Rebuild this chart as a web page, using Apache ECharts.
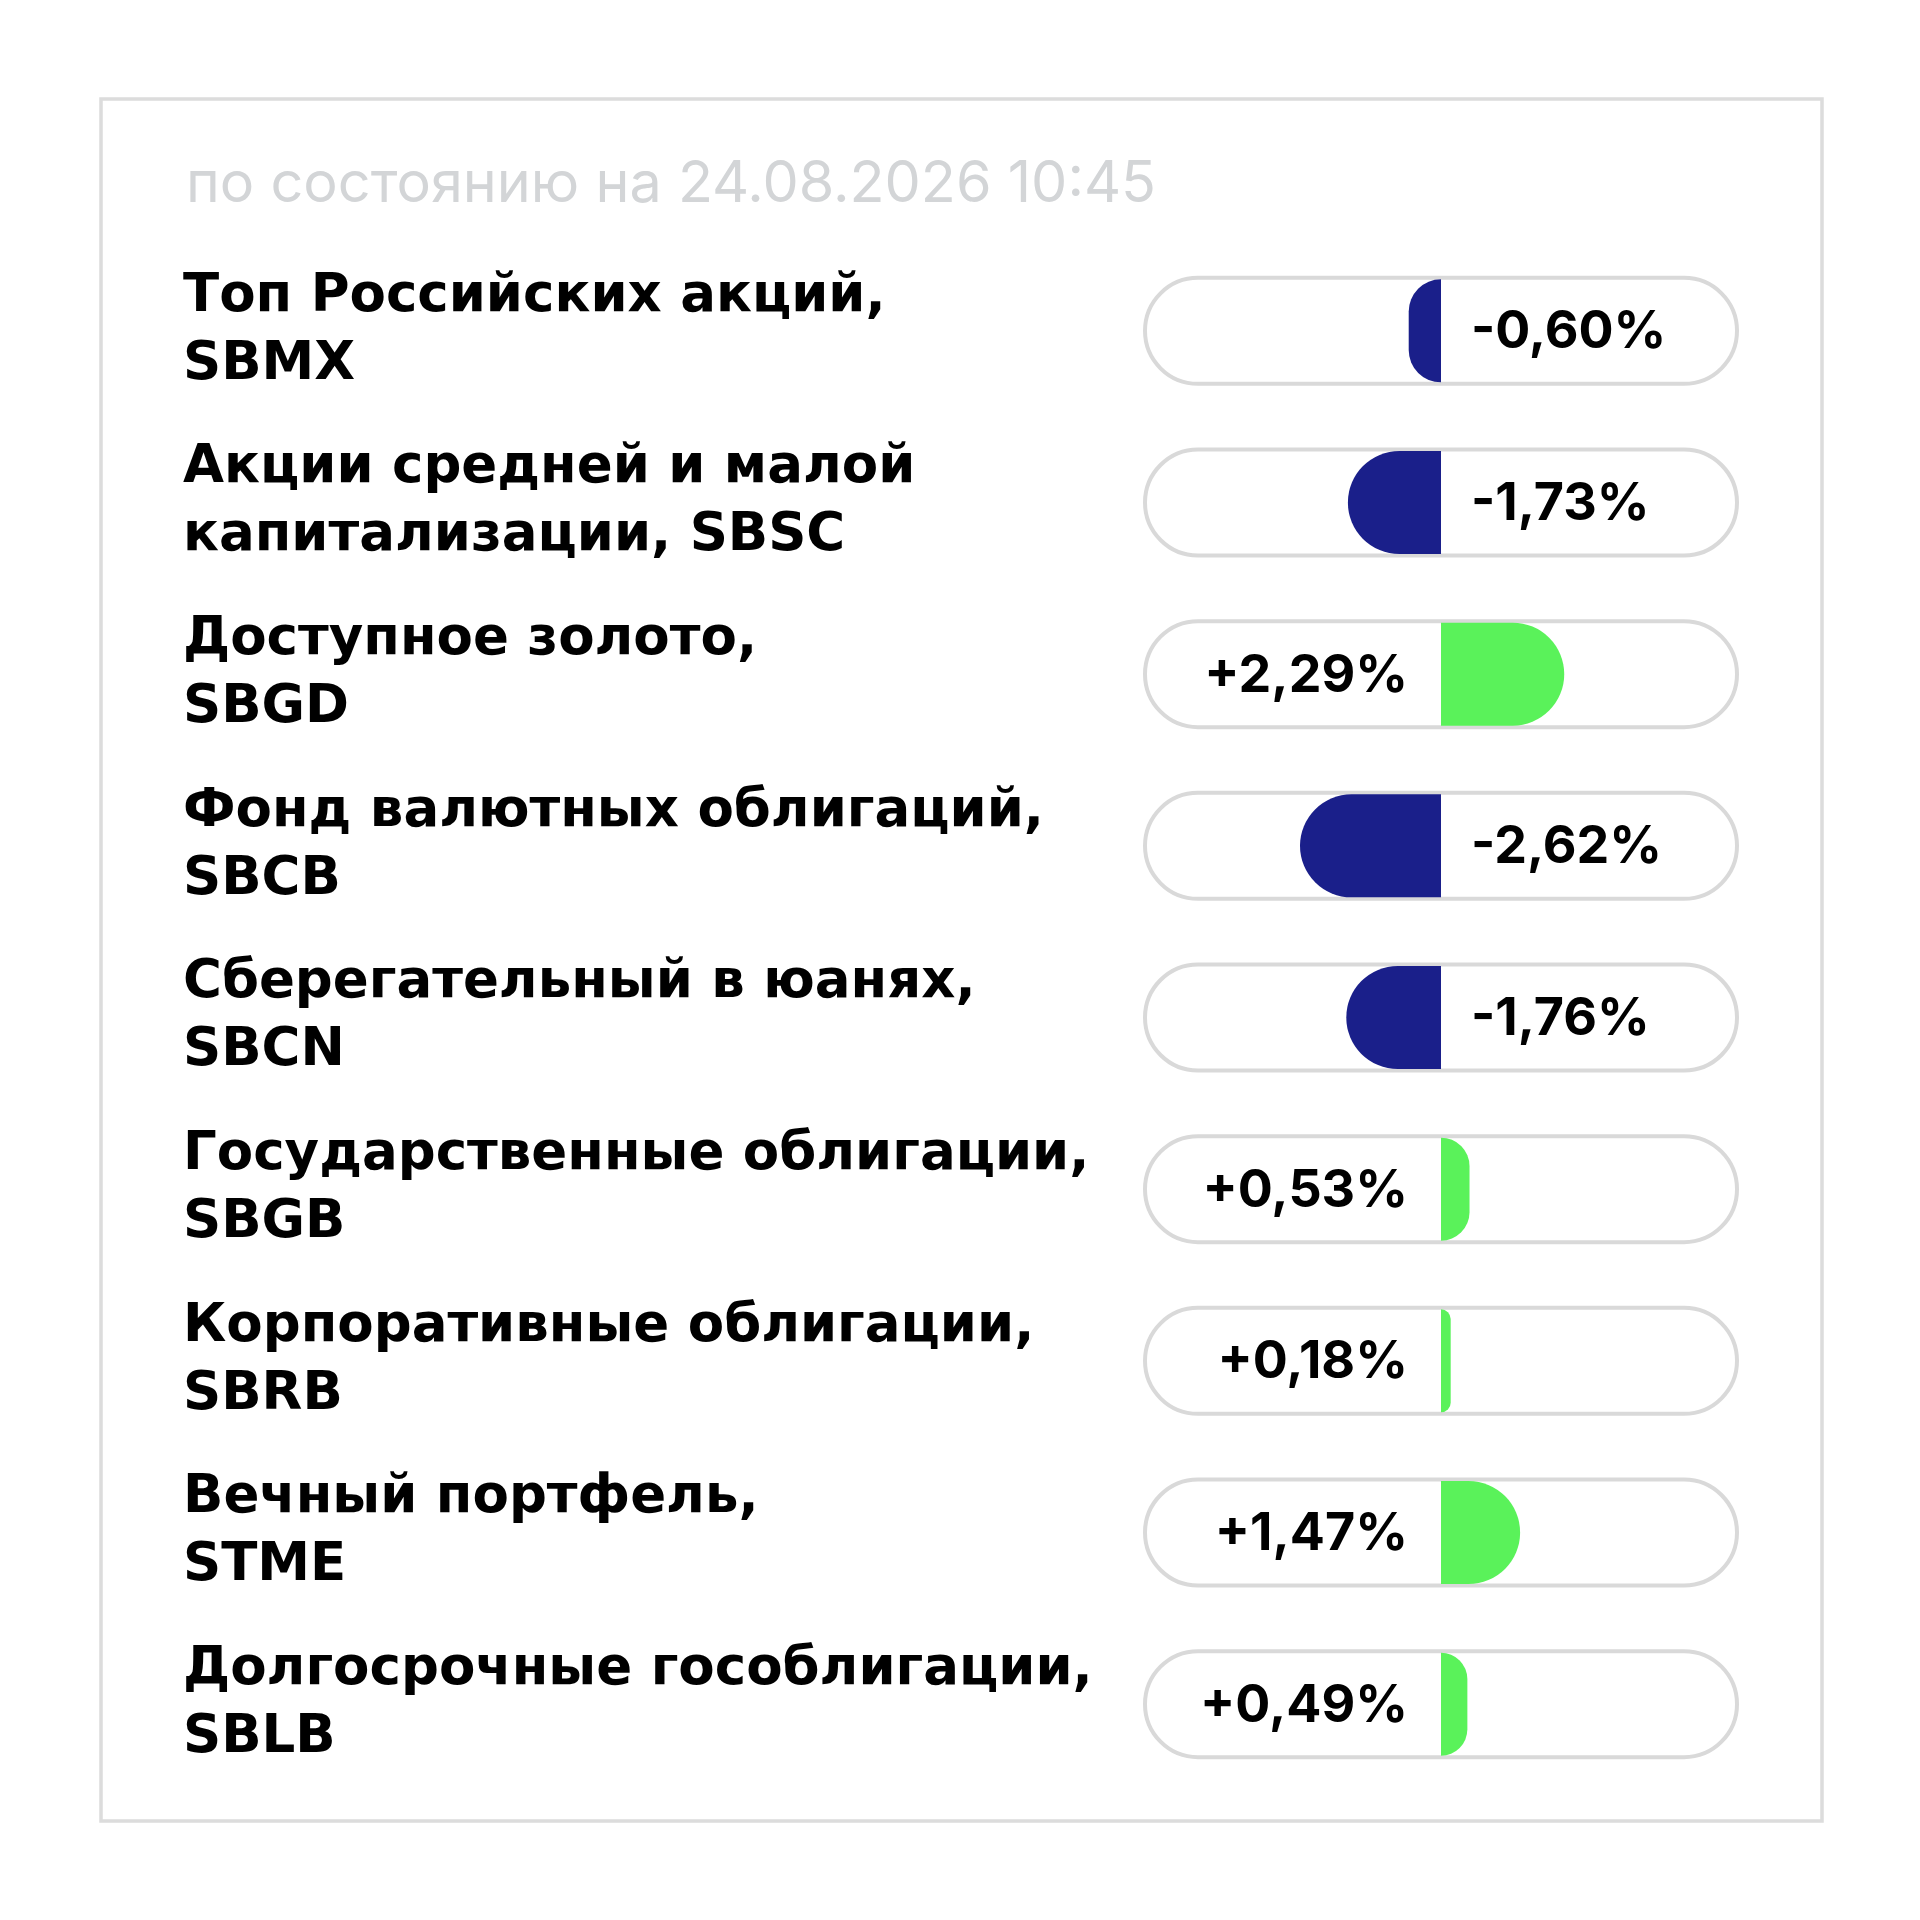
<!DOCTYPE html>
<html>
<head>
<meta charset="utf-8">
<script src="https://cdn.jsdelivr.net/npm/echarts@6/dist/echarts.min.js"></script>
<style>
  html, body { margin: 0; padding: 0; background: #ffffff; }
  #chart { width: 1920px; height: 1920px; }
</style>
</head>
<body>
<div id="chart"></div>
<script>
// ---- data ----
var subtitle = 'по состоянию на 24.08.2026 10:45';
var categories = [
  'Топ Российских акций,\nSBMX',
  'Акции средней и малой\nкапитализации, SBSC',
  'Доступное золото,\nSBGD',
  'Фонд валютных облигаций,\nSBCB',
  'Сберегательный в юанях,\nSBCN',
  'Государственные облигации,\nSBGB',
  'Корпоративные облигации,\nSBRB',
  'Вечный портфель,\nSTME',
  'Долгосрочные гособлигации,\nSBLB'
];
var changes = [-0.60, -1.73, 2.29, -2.62, -1.76, 0.53, 0.18, 1.47, 0.49];

// ---- styling ----
var NAVY = '#1a1f8a';
var GREEN = '#5af25a';
var FONT = 'Inter';
var LABEL_FONT = 'DejaVu Sans';
var X_MIN = -5.5, X_MAX = 5.5;

function fmt(v) {
  return (v > 0 ? '+' : '-') + Math.abs(v).toFixed(2).replace('.', ',') + '%';
}

var chart = echarts.init(document.getElementById('chart'), null, { renderer: 'canvas' });

var option = {
  backgroundColor: '#ffffff',
  animation: false,
  title: {
    text: subtitle,
    left: 186,
    top: 156,
    padding: 0,
    textStyle: { fontFamily: FONT, fontSize: 57.5, fontWeight: 400, color: '#d3d5d7' }
  },
  graphic: [{
    type: 'rect',
    shape: { x: 101, y: 99, width: 1721, height: 1722 },
    style: { fill: 'none', stroke: '#dcdcdc', lineWidth: 3.5 },
    z: 0
  }],
  grid: { left: 1145, right: 183, top: 245, bottom: 130 },
  xAxis: {
    type: 'value', min: X_MIN, max: X_MAX, show: false,
    splitLine: { show: false }
  },
  yAxis: {
    type: 'category', inverse: true, data: categories,
    axisLine: { show: false }, axisTick: { show: false },
    axisLabel: {
      align: 'left', margin: 1145 - 183,
      fontFamily: LABEL_FONT, fontSize: 53, fontWeight: 'bold', color: '#000000',
      lineHeight: 68,
      padding: [10, 0, 0, 0]
    }
  },
  series: [
    {
      type: 'custom',
      z: 1,
      data: changes.map(function (v, i) { return [0, i, v]; }),
      encode: { x: 0, y: 1 },
      renderItem: function (params, api) {
        var yi = api.value(1);
        var v = api.value(2);
        var l = api.coord([X_MIN, yi]);
        var r = api.coord([X_MAX, yi]);
        var z = api.coord([0, yi]);
        var h = 106;
        return {
          type: 'group',
          children: [
            {
              type: 'rect',
              shape: { x: l[0], y: l[1] - h / 2, width: r[0] - l[0], height: h, r: h / 2 },
              style: { fill: '#ffffff', stroke: '#d9d9d9', lineWidth: 4 }
            },
            {
              type: 'text',
              style: {
                x: v < 0 ? z[0] + 30 : z[0] - 33,
                y: z[1] + 2,
                text: fmt(v),
                textAlign: v < 0 ? 'left' : 'right',
                textVerticalAlign: 'middle',
                fontFamily: FONT, fontSize: 52, fontWeight: 700, fill: '#000000'
              }
            }
          ]
        };
      }
    },
    {
      type: 'bar',
      z: 3,
      barWidth: 103,
      data: changes.map(function (v) {
        return {
          value: v,
          itemStyle: {
            color: v < 0 ? NAVY : GREEN,
            borderRadius: v < 0 ? [52, 0, 0, 52] : [0, 52, 52, 0]
          }
        };
      })
    }
  ]
};
chart.setOption(option);
</script>
</body>
</html>
